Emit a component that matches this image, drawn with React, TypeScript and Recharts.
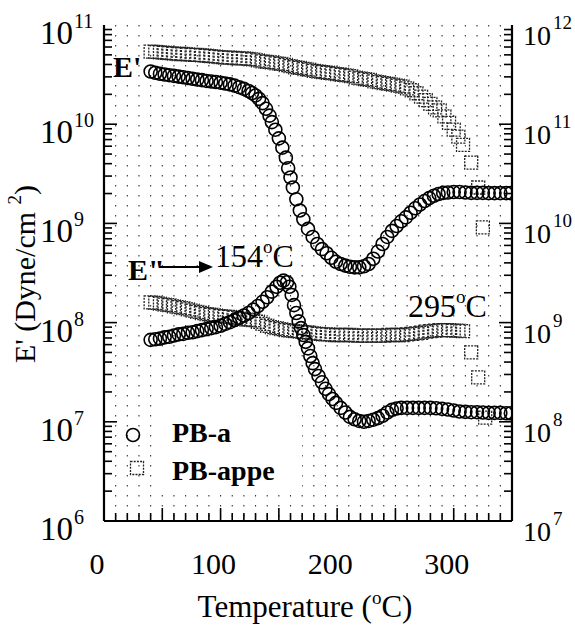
import React from 'react';
import { ScatterChart, Scatter, XAxis, YAxis, CartesianGrid } from 'recharts';

const W = 575;
const H = 627;
const FONT = "'Liberation Serif', 'Times New Roman', serif";

// ---- Data (temperature in °C, modulus in Dyne/cm^2) ----
const pbaStorageT = [40, 44, 48, 52, 56, 60, 64, 68, 72, 76, 80, 84, 88, 92, 96, 100, 104, 108, 112, 116, 120, 124, 127, 130, 133, 136, 139, 142, 144, 147, 150, 153, 156, 158, 160, 162, 165, 168, 171, 175, 179, 183, 187, 191, 195, 199, 203, 207, 211, 215, 219, 223, 227, 231, 235, 239, 243, 247, 251, 255, 259, 263, 267, 271, 275, 279, 283, 287, 291, 295, 300, 305, 310, 315, 320, 325, 330, 335, 340, 345, 349];
const pbaStorageE = [3.4e10, 3.3e10, 3.22e10, 3.17e10, 3.12e10, 3.07e10, 3.02e10, 2.97e10, 2.92e10, 2.87e10, 2.82e10, 2.78e10, 2.73e10, 2.69e10, 2.66e10, 2.62e10, 2.57e10, 2.52e10, 2.45e10, 2.36e10, 2.27e10, 2.16e10, 2.06e10, 1.95e10, 1.8e10, 1.63e10, 1.43e10, 1.22e10, 1.05e10, 8.8e9, 7.2e9, 5.8e9, 4.6e9, 3.6e9, 2.9e9, 2.3e9, 1.75e9, 1.35e9, 1.1e9, 8.8e8, 7.3e8, 6.2e8, 5.5e8, 5.0e8, 4.5e8, 4.1e8, 3.9e8, 3.75e8, 3.65e8, 3.6e8, 3.6e8, 3.7e8, 3.9e8, 4.4e8, 5.2e8, 6.2e8, 7.3e8, 8.4e8, 9.4e8, 1.05e9, 1.15e9, 1.28e9, 1.42e9, 1.55e9, 1.68e9, 1.8e9, 1.9e9, 1.98e9, 2.03e9, 2.05e9, 2.07e9, 2.07e9, 2.05e9, 2.03e9, 2.03e9, 2.03e9, 2.02e9, 2.02e9, 2.02e9, 2.02e9, 2.02e9];

const pbaLossT = [40, 44, 48, 52, 56, 60, 64, 68, 72, 76, 80, 84, 88, 92, 96, 100, 104, 108, 112, 116, 120, 124, 128, 132, 136, 140, 144, 148, 151, 154, 157, 159, 161, 163, 165, 167, 169, 171, 173, 175, 177, 179, 181, 184, 187, 190, 193, 196, 199, 203, 207, 211, 215, 219, 223, 227, 231, 235, 239, 243, 247, 251, 255, 260, 265, 270, 275, 280, 285, 290, 295, 300, 305, 310, 315, 320, 325, 330, 335, 340, 345, 349];
const pbaLossE = [6.7e7, 6.8e7, 6.9e7, 7.1e7, 7.2e7, 7.4e7, 7.6e7, 7.7e7, 7.9e7, 8.0e7, 8.2e7, 8.4e7, 8.6e7, 8.8e7, 9.0e7, 9.3e7, 9.7e7, 1.01e8, 1.06e8, 1.12e8, 1.18e8, 1.25e8, 1.35e8, 1.47e8, 1.62e8, 1.8e8, 2.05e8, 2.3e8, 2.52e8, 2.65e8, 2.55e8, 2.3e8, 1.9e8, 1.5e8, 1.25e8, 1.03e8, 8.8e7, 7.5e7, 6.4e7, 5.5e7, 4.6e7, 3.9e7, 3.4e7, 2.9e7, 2.5e7, 2.15e7, 1.9e7, 1.7e7, 1.55e7, 1.38e7, 1.24e7, 1.12e7, 1.06e7, 1.02e7, 1.0e7, 1.02e7, 1.05e7, 1.09e7, 1.15e7, 1.24e7, 1.32e7, 1.36e7, 1.38e7, 1.38e7, 1.38e7, 1.38e7, 1.38e7, 1.38e7, 1.37e7, 1.35e7, 1.33e7, 1.3e7, 1.27e7, 1.26e7, 1.25e7, 1.25e7, 1.24e7, 1.23e7, 1.23e7, 1.23e7, 1.22e7, 1.22e7];

const appeStorageT = [40, 44, 48, 52, 56, 60, 64, 68, 72, 76, 80, 84, 88, 92, 96, 100, 104, 108, 112, 116, 120, 124, 128, 132, 136, 140, 144, 148, 152, 156, 160, 164, 168, 172, 176, 180, 184, 188, 192, 196, 200, 204, 208, 212, 216, 220, 224, 228, 232, 236, 240, 244, 248, 252, 256, 260, 264, 268, 272, 276, 280, 284, 288, 292, 296, 300, 304, 308, 315, 321, 325];
const appeStorageE = [5.4e10, 5.35e10, 5.3e10, 5.25e10, 5.2e10, 5.15e10, 5.1e10, 5.1e10, 5.05e10, 5.0e10, 5.0e10, 4.95e10, 4.9e10, 4.85e10, 4.8e10, 4.75e10, 4.7e10, 4.7e10, 4.65e10, 4.6e10, 4.6e10, 4.55e10, 4.5e10, 4.4e10, 4.3e10, 4.25e10, 4.2e10, 4.1e10, 4.05e10, 3.95e10, 3.85e10, 3.75e10, 3.7e10, 3.6e10, 3.55e10, 3.45e10, 3.4e10, 3.35e10, 3.3e10, 3.25e10, 3.2e10, 3.15e10, 3.1e10, 3.05e10, 2.95e10, 2.9e10, 2.85e10, 2.8e10, 2.7e10, 2.65e10, 2.6e10, 2.55e10, 2.5e10, 2.45e10, 2.4e10, 2.3e10, 2.2e10, 2.05e10, 1.9e10, 1.75e10, 1.6e10, 1.48e10, 1.38e10, 1.2e10, 1.03e10, 8.8e9, 7.5e9, 6.2e9, 4.1e9, 2.3e9, 9.1e8];

const appeLossT = [40, 44, 48, 52, 56, 60, 64, 68, 72, 76, 80, 84, 88, 92, 96, 100, 104, 108, 112, 116, 120, 124, 128, 132, 136, 140, 144, 148, 152, 156, 160, 164, 168, 172, 176, 180, 184, 188, 192, 196, 200, 204, 208, 212, 216, 220, 224, 228, 232, 236, 240, 244, 248, 252, 256, 260, 264, 268, 272, 276, 280, 284, 288, 292, 296, 300, 304, 308, 315, 321, 327];
const appeLossE = [1.6e8, 1.58e8, 1.55e8, 1.52e8, 1.5e8, 1.46e8, 1.43e8, 1.4e8, 1.36e8, 1.32e8, 1.28e8, 1.25e8, 1.22e8, 1.2e8, 1.18e8, 1.16e8, 1.15e8, 1.14e8, 1.12e8, 1.1e8, 1.08e8, 1.07e8, 1.06e8, 1.02e8, 9.7e7, 9.3e7, 9.0e7, 8.8e7, 8.6e7, 8.4e7, 8.3e7, 8.2e7, 8.1e7, 8.0e7, 7.9e7, 7.8e7, 7.7e7, 7.6e7, 7.6e7, 7.5e7, 7.5e7, 7.5e7, 7.5e7, 7.5e7, 7.4e7, 7.4e7, 7.4e7, 7.4e7, 7.4e7, 7.4e7, 7.4e7, 7.5e7, 7.5e7, 7.5e7, 7.5e7, 7.6e7, 7.7e7, 7.8e7, 7.9e7, 8.1e7, 8.2e7, 8.3e7, 8.4e7, 8.4e7, 8.4e7, 8.3e7, 8.3e7, 8.2e7, 5.0e7, 2.8e7, 1.1e7];

// ---- Axis definitions ----
const xTicks = [0, 10, 20, 30, 40, 50, 60, 70, 80, 90, 100, 110, 120, 130, 140, 150, 160, 170, 180, 190, 200, 210, 220, 230, 240, 250, 260, 270, 280, 290, 300, 310, 320, 330, 340, 350];
const xTickLabels = [0, 100, 200, 300];
const leftDecades = [6, 7, 8, 9, 10, 11];
const rightDecades = [7, 8, 9, 10, 11, 12];
const minorMultipliers = [2, 3, 4, 5, 6, 7, 8, 9];

function logTicks(exps: number[]) {
  const out: number[] = [];
  exps.forEach((e, i) => {
    out.push(Math.pow(10, e));
    if (i < exps.length - 1) minorMultipliers.forEach((m) => out.push(m * Math.pow(10, e)));
  });
  return out;
}
const leftTicks = logTicks(leftDecades);
const rightTicks = logTicks(rightDecades);

const toPoints = (ts: number[], vs: number[]) => ts.map((t, i) => ({ t, v: vs[i] }));

const isDecade = (v: number) => {
  const l = Math.log10(v);
  return Math.abs(l - Math.round(l)) < 1e-6;
};

const BottomTick = (p: any) => {
  const { x, y, payload } = p;
  const v = payload.value;
  const len = v % 50 === 0 ? 13 : 8;
  return (
    <g>
      {v > 0 && v < 350 && <line x1={x} x2={x} y1={y} y2={y - len} stroke="#000" strokeWidth={1.6} />}
      {xTickLabels.includes(v) && (
        <text x={x - 7} y={y + 53} textAnchor="middle" fontSize={30} fontFamily={FONT} fill="#000">
          {v}
        </text>
      )}
    </g>
  );
};

const TopTick = (p: any) => {
  const { x, y, payload } = p;
  const v = payload.value;
  const len = v % 50 === 0 ? 13 : 8;
  return <g>{v > 0 && v < 350 && <line x1={x} x2={x} y1={y} y2={y + len} stroke="#000" strokeWidth={1.6} />}</g>;
};

const LeftTick = (p: any) => {
  const { x, y, payload } = p;
  const v = payload.value;
  const major = isDecade(v);
  const e = Math.round(Math.log10(v));
  return (
    <g>
      {v > 1e6 && v < 1e11 && <line x1={x} x2={x + (major ? 13 : 8)} y1={y} y2={y} stroke="#000" strokeWidth={1.6} />}
      {major && (
        <text y={y + 19} fontFamily={FONT} fill="#000">
          <tspan x={73} textAnchor="end" fontSize={33}>10</tspan>
          <tspan x={74} y={y + 3} fontSize={20}>{e}</tspan>
        </text>
      )}
    </g>
  );
};

const RightTick = (p: any) => {
  const { x, y, payload } = p;
  const v = payload.value;
  const major = isDecade(v);
  const e = Math.round(Math.log10(v));
  return (
    <g>
      {v > 1e7 && v < 1e12 && <line x1={x} x2={x - (major ? 13 : 8)} y1={y} y2={y} stroke="#000" strokeWidth={1.6} />}
      {major && (
        <text y={y + 20} fontFamily={FONT} fill="#000">
          <tspan x={x + 11} fontSize={28}>10</tspan>
          <tspan x={x + 41} y={y + 4} fontSize={19}>{e}</tspan>
        </text>
      )}
    </g>
  );
};

const CircleShape = (p: any) => (
  <circle cx={p.cx} cy={p.cy} r={6.5} fill="none" stroke="#000" strokeWidth={1.6} />
);
const SquareShape = (p: any) => (
  <rect x={p.cx - 6.5} y={p.cy - 6.5} width={13} height={13} fill="none" stroke="#222" strokeWidth={1.3} strokeDasharray="2 1.2" />
);

export default function App() {
  return (
    <div style={{ position: 'absolute', left: 0, top: 0, width: W, height: H, background: '#fff' }}>
      <ScatterChart width={W} height={H} margin={{ top: 25, right: 0, bottom: 0, left: 0 }}>
        <CartesianGrid xAxisId="b" yAxisId="l" horizontal={false} stroke="#333" strokeWidth={1.1} strokeDasharray="1.5 8.5" />
        <XAxis xAxisId="b" type="number" dataKey="t" domain={[0, 350]} ticks={xTicks} interval={0} orientation="bottom" height={106}
          tick={<BottomTick />} tickLine={false} tickSize={0} tickMargin={0} axisLine={{ stroke: '#000', strokeWidth: 2.2 }} allowDataOverflow />
        <XAxis xAxisId="t" type="number" dataKey="t" domain={[0, 350]} ticks={xTicks} interval={0} orientation="top" height={0}
          tick={<TopTick />} tickLine={false} tickSize={0} tickMargin={0} axisLine={{ stroke: '#000', strokeWidth: 2.2 }} allowDataOverflow />
        <YAxis yAxisId="l" type="number" dataKey="v" scale="log" domain={[1e6, 1e11]} ticks={leftTicks} interval={0} orientation="left" width={104}
          tick={<LeftTick />} tickLine={false} tickSize={0} tickMargin={0} axisLine={{ stroke: '#000', strokeWidth: 2.2 }} allowDataOverflow />
        <YAxis yAxisId="r" type="number" dataKey="v" scale="log" domain={[1e7, 1e12]} ticks={rightTicks} interval={0} orientation="right" width={63}
          tick={<RightTick />} tickLine={false} tickSize={0} tickMargin={0} axisLine={{ stroke: '#000', strokeWidth: 2.2 }} allowDataOverflow />
        <Scatter name="PB-appe E'" xAxisId="b" yAxisId="l" data={toPoints(appeStorageT, appeStorageE)} shape={<SquareShape />} isAnimationActive={false} />
        <Scatter name="PB-appe E''" xAxisId="b" yAxisId="l" data={toPoints(appeLossT, appeLossE)} shape={<SquareShape />} isAnimationActive={false} />
        <Scatter name="PB-a E'" xAxisId="b" yAxisId="l" data={toPoints(pbaStorageT, pbaStorageE)} shape={<CircleShape />} isAnimationActive={false} />
        <Scatter name="PB-a E''" xAxisId="b" yAxisId="l" data={toPoints(pbaLossT, pbaLossE)} shape={<CircleShape />} isAnimationActive={false} />
      </ScatterChart>
      <svg width={W} height={H} style={{ position: 'absolute', left: 0, top: 0, pointerEvents: 'none' }} fontFamily={FONT}>
        {/* legend box */}
        <rect x={156} y={400} width={146} height={92} fill="#fff" />
        <circle cx={133} cy={435} r={6.5} fill="none" stroke="#000" strokeWidth={1.6} />
        <rect x={130.5} y={461.5} width={13} height={13} fill="none" stroke="#222" strokeWidth={1.3} strokeDasharray="2 1.2" />
        <text x={172} y={442} fontSize={28} fontWeight="bold" fill="#000">PB-a</text>
        <text x={172} y={480} fontSize={28} fontWeight="bold" fill="#000">PB-appe</text>
        {/* annotations */}
        <text x={113} y={77} fontSize={30} fontWeight="bold" fill="#000">E'</text>
        <text x={128} y={280} fontSize={30} fontWeight="bold" fill="#000">E"</text>
        <line x1={160} y1={267} x2={203} y2={267} stroke="#000" strokeWidth={2} />
        <polygon points="213,267 199,261 199,273" fill="#000" />
        <text x={215} y={267} fontSize={32} fill="#000">154<tspan fontSize={19} dy={-14}>o</tspan><tspan dy={14}>C</tspan></text>
        <text x={408} y={317} fontSize={32} fill="#000">295<tspan fontSize={19} dy={-14}>o</tspan><tspan dy={14}>C</tspan></text>
        {/* axis titles */}
        <text x={305} y={617} fontSize={31} textAnchor="middle" fill="#000">Temperature (<tspan fontSize={19} dy={-13}>o</tspan><tspan dy={13}>C)</tspan></text>
        <text transform="translate(35,274) rotate(-90)" fontSize={30} textAnchor="middle" fill="#000">E' (Dyne/cm <tspan fontSize={19} dy={-14}>2</tspan><tspan dy={14}>)</tspan></text>
      </svg>
    </div>
  );
}
